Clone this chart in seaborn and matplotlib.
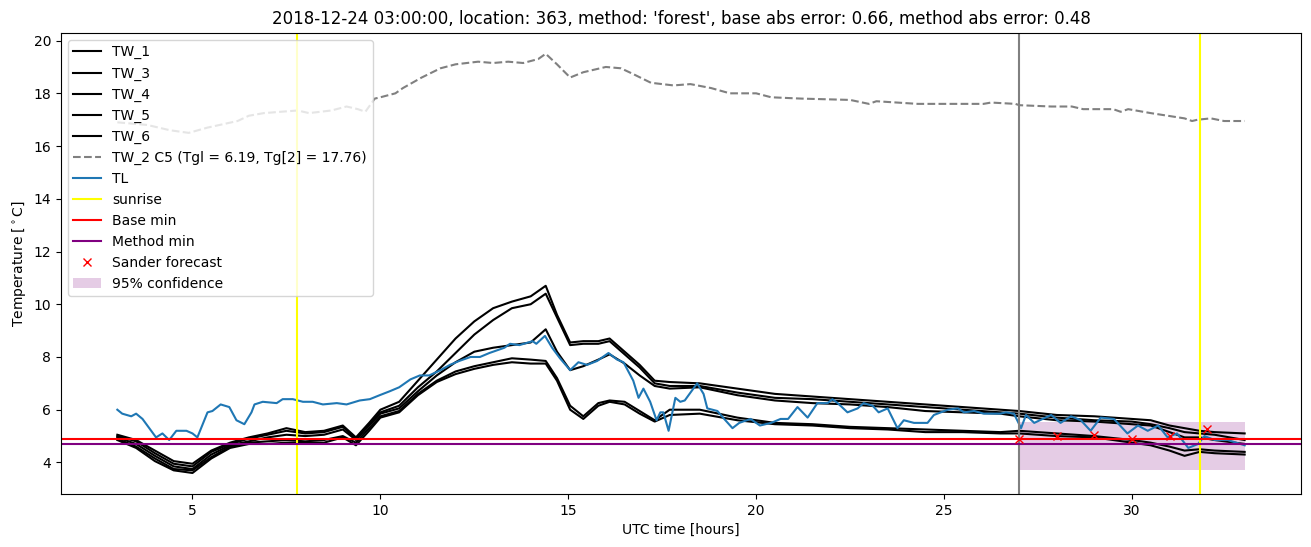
import matplotlib
matplotlib.use("Agg")
import matplotlib.pyplot as plt
import seaborn as sns
import numpy as np

# ---------------- data ----------------
title = ("2018-12-24 03:00:00, location: 363, method: 'forest', "
         "base abs error: 0.66, method abs error: 0.48")

tw_labels = ["TW_1", "TW_3", "TW_4", "TW_5", "TW_6"]
tw_time = [3.0, 3.5, 4.0, 4.5, 5.0, 5.5, 6.0, 6.5, 7.0, 7.5, 8.0, 8.5, 9.0, 9.35, 9.7,
           10.0, 10.5, 11.0, 11.5, 12.0, 12.5, 13.0, 13.5, 14.0, 14.4, 14.7, 15.05,
           15.4, 15.8, 16.1, 16.5, 16.9, 17.3, 17.7, 18.5, 19.5, 20.5, 21.5, 22.5,
           23.5, 24.5, 25.5, 26.5, 27.0, 28.0, 29.0, 30.0, 30.5, 31.0, 31.4, 31.8,
           32.2, 33.0]
tw_1 = [5.05, 4.85, 4.45, 4.05, 3.95, 4.45, 4.75, 4.95, 5.1, 5.3, 5.15, 5.2, 5.4, 4.95, 5.5,
        6.0, 6.3, 7.1, 7.9, 8.7, 9.35, 9.85, 10.1, 10.3, 10.7, 9.6, 8.55,
        8.6, 8.6, 8.7, 8.2, 7.7, 7.1, 7.05, 7.0, 6.8, 6.6, 6.5, 6.4,
        6.3, 6.2, 6.1, 6.0, 5.95, 5.8, 5.75, 5.65, 5.6, 5.4, 5.3, 5.2,
        5.15, 5.1]
tw_3 = [5.0, 4.8, 4.35, 3.95, 3.85, 4.4, 4.7, 4.9, 5.05, 5.2, 5.1, 5.15, 5.35, 4.9, 5.45,
        5.9, 6.15, 6.85, 7.45, 8.15, 8.85, 9.4, 9.85, 10.0, 10.4, 9.5, 8.45,
        8.5, 8.5, 8.6, 8.1, 7.6, 7.0, 6.9, 6.9, 6.65, 6.45, 6.4, 6.3,
        6.2, 6.1, 6.0, 5.9, 5.85, 5.7, 5.6, 5.55, 5.45, 5.3, 5.15, 5.1,
        5.05, 4.85]
tw_4 = [4.95, 4.7, 4.25, 3.85, 3.75, 4.3, 4.65, 4.8, 4.95, 5.05, 5.0, 5.05, 5.25, 4.85, 5.4,
        5.85, 6.05, 6.7, 7.3, 7.8, 8.2, 8.35, 8.45, 8.55, 9.05, 8.2, 7.5,
        7.65, 7.9, 8.1, 7.75, 7.3, 6.9, 6.8, 6.85, 6.55, 6.35, 6.25, 6.2,
        6.1, 5.95, 5.9, 5.85, 5.75, 5.6, 5.55, 5.45, 5.4, 5.15, 4.95, 4.95,
        4.85, 4.7]
tw_5 = [4.9, 4.6, 4.15, 3.75, 3.7, 4.2, 4.6, 4.75, 4.8, 4.85, 4.8, 4.85, 5.0, 4.75, 5.3,
        5.75, 5.95, 6.6, 7.1, 7.45, 7.65, 7.8, 7.95, 7.9, 7.85, 7.2, 6.15,
        5.75, 6.25, 6.35, 6.3, 5.95, 5.6, 6.0, 6.0, 5.7, 5.5, 5.45, 5.35,
        5.3, 5.25, 5.2, 5.15, 5.2, 5.1, 5.0, 4.85, 4.75, 4.6, 4.45, 4.5,
        4.45, 4.4]
tw_6 = [4.85, 4.55, 4.05, 3.7, 3.6, 4.15, 4.55, 4.7, 4.7, 4.75, 4.75, 4.75, 4.95, 4.65, 5.2,
        5.7, 5.9, 6.55, 7.05, 7.35, 7.55, 7.7, 7.8, 7.75, 7.75, 7.1, 6.0,
        5.65, 6.15, 6.3, 6.2, 5.85, 5.55, 5.8, 5.85, 5.6, 5.45, 5.4, 5.3,
        5.25, 5.15, 5.15, 5.1, 5.1, 5.0, 4.95, 4.75, 4.65, 4.45, 4.25, 4.4,
        4.35, 4.3]
tw_values = [tw_1, tw_3, tw_4, tw_5, tw_6]

tw2_label = "TW_2 C5 (Tgl = 6.19, Tg[2] = 17.76)"
tw2_time = [3.0, 3.8, 4.4, 4.9, 5.4, 6.2, 6.5, 6.9, 7.8, 8.1, 8.7, 9.1, 9.4, 9.6, 9.85,
            10.0, 10.4, 10.6, 11.1, 11.6, 12.0, 12.6, 13.0, 13.4, 13.8, 14.2, 14.4,
            14.7, 15.05, 15.4, 16.0, 16.4, 16.7, 17.2, 17.8, 18.25, 18.8, 19.3, 20.0,
            20.4, 21.2, 22.5, 23.0, 23.2, 24.3, 26.05, 26.25, 26.9, 27.0, 27.85, 28.4,
            28.7, 29.5, 29.7, 29.9, 30.5, 30.95, 31.4, 31.6, 31.75, 32.1, 32.45, 33.0]
tw2_temp = [16.9, 16.8, 16.6, 16.5, 16.7, 16.95, 17.15, 17.25, 17.35, 17.25, 17.35, 17.5, 17.4, 17.3, 17.8,
            17.85, 18.0, 18.2, 18.6, 18.95, 19.1, 19.2, 19.15, 19.2, 19.15, 19.3, 19.5,
            19.1, 18.6, 18.8, 19.0, 18.95, 18.75, 18.4, 18.3, 18.35, 18.2, 18.0, 18.0,
            17.85, 17.8, 17.75, 17.6, 17.7, 17.6, 17.6, 17.65, 17.6, 17.55, 17.5, 17.5,
            17.4, 17.4, 17.3, 17.4, 17.25, 17.15, 17.05, 16.95, 17.0, 17.05, 16.95, 16.95]

tl_time = [3.0, 3.13, 3.37, 3.5, 3.67, 3.85, 4.03, 4.2, 4.38, 4.57, 4.84, 5.0, 5.13, 5.4,
           5.53, 5.75, 5.98, 6.17, 6.38, 6.57, 6.65, 6.87, 7.24, 7.4, 7.67, 7.94, 8.2,
           8.47, 8.84, 9.1, 9.45, 9.72, 9.98, 10.25, 10.5, 10.8, 11.05, 11.3, 11.6,
           11.85, 12.1, 12.4, 12.65, 12.9, 13.3, 13.45, 13.7, 14.05, 14.15, 14.38,
           14.57, 14.78, 15.05, 15.27, 15.5, 15.77, 16.07, 16.3, 16.47, 16.73, 16.87,
           17.0, 17.18, 17.35, 17.45, 17.53, 17.67, 17.85, 17.98, 18.1, 18.43, 18.6,
           18.7, 18.97, 19.15, 19.37, 19.55, 19.85, 20.1, 20.4, 20.65, 20.85, 21.1,
           21.37, 21.63, 21.9, 22.03, 22.17, 22.43, 22.7, 22.86, 23.1, 23.26, 23.5,
           23.76, 23.93, 24.2, 24.56, 24.73, 25.1, 25.37, 25.53, 25.8, 26.06, 26.5,
           26.65, 26.86, 27.05, 27.18, 27.4, 27.85, 28.1, 28.38, 28.64, 28.9, 29.17,
           29.52, 29.88, 30.16, 30.42, 30.7, 30.95, 31.2, 31.5, 31.76, 31.93, 32.2,
           32.55, 33.0]
tl_temp = [6.0, 5.85, 5.75, 5.85, 5.65, 5.3, 4.95, 5.1, 4.85, 5.2, 5.2, 5.1, 4.95, 5.9,
           5.95, 6.2, 6.1, 5.6, 5.45, 5.9, 6.2, 6.3, 6.25, 6.4, 6.4, 6.3, 6.3,
           6.2, 6.25, 6.2, 6.35, 6.4, 6.55, 6.7, 6.85, 7.15, 7.3, 7.3, 7.5,
           7.7, 7.85, 8.0, 8.0, 8.15, 8.35, 8.5, 8.45, 8.6, 8.5, 8.8,
           8.35, 7.95, 7.5, 7.8, 7.7, 7.85, 8.15, 7.9, 7.8, 7.1, 6.45,
           6.8, 6.3, 5.6, 5.9, 5.9, 5.2, 6.45, 6.3, 6.35, 7.0, 6.6,
           6.05, 5.95, 5.65, 5.3, 5.5, 5.65, 5.4, 5.5, 5.65, 5.65, 6.1,
           5.7, 6.25, 6.25, 6.4, 6.25, 5.9, 6.05, 6.25, 6.15, 5.9, 6.05,
           5.3, 5.6, 5.5, 5.5, 5.8, 6.0, 6.05, 5.9, 5.95, 5.85, 5.85,
           5.9, 5.85, 5.3, 5.8, 5.5, 5.8, 5.5, 5.75, 5.6, 5.2, 5.7,
           5.65, 5.1, 5.4, 5.2, 5.4, 4.95, 5.1, 4.55, 4.7, 5.0, 4.85,
           4.85, 4.65]

sunrise_times = [7.77, 31.81]
forecast_start = 27.0
base_min = 4.87
method_min = 4.69

sander_time = [27, 28, 29, 30, 31, 32]
sander_temp = [4.9, 5.0, 5.05, 4.87, 5.0, 5.28]

conf_time = [27.0, 33.0]
conf_low = [3.73, 3.73]
conf_high = [5.52, 5.52]

# ---------------- plot ----------------
fig, ax = plt.subplots(figsize=(13.11, 5.47), dpi=100)
fig.subplots_adjust(left=0.0465, right=0.9924, top=0.940, bottom=0.097)

for lab, vals in zip(tw_labels, tw_values):
    sns.lineplot(x=tw_time, y=vals, ax=ax, color="black", label=lab, linewidth=1.5)

sns.lineplot(x=tw2_time, y=tw2_temp, ax=ax, color="gray", linestyle="--",
             label=tw2_label, linewidth=1.5)
sns.lineplot(x=tl_time, y=tl_temp, ax=ax, color="#1f77b4", label="TL", linewidth=1.5)

ax.axvline(sunrise_times[0], color="yellow", label="sunrise")
ax.axvline(forecast_start, color="gray")
ax.axvline(sunrise_times[1], color="yellow")
ax.axhline(base_min, color="red", label="Base min")
ax.axhline(method_min, color="purple", label="Method min")

ax.plot(sander_time, sander_temp, linestyle="none", marker="x", color="red",
        label="Sander forecast")
ax.fill_between(conf_time, conf_low, conf_high, color="purple", alpha=0.2,
                linewidth=0, label="95% confidence")

ax.set_title(title)
ax.set_xlabel("UTC time [hours]")
ax.set_ylabel(r"Temperature [$^\circ$C]")
ax.legend(loc="upper left")

fig.savefig("out.png", dpi=100)
